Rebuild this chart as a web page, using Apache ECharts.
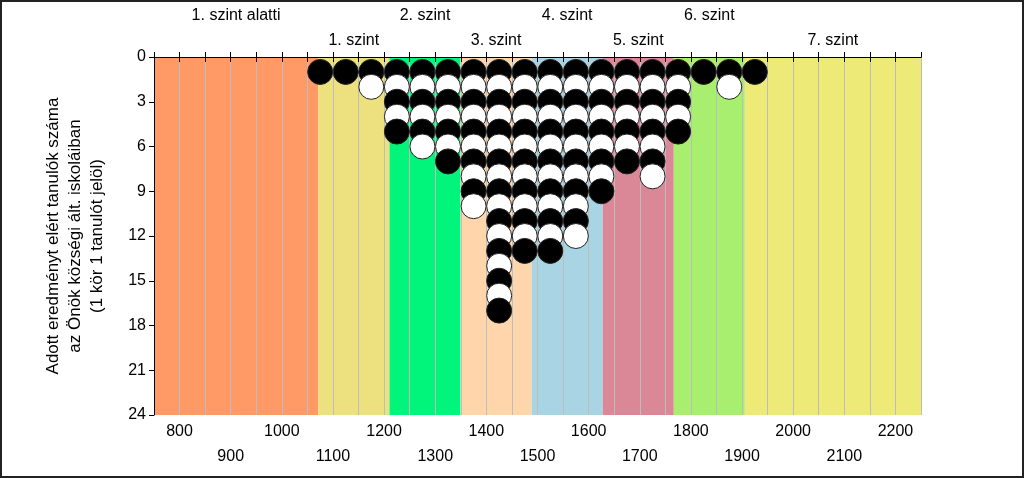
<!DOCTYPE html>
<html>
<head>
<meta charset="utf-8">
<script src="https://cdn.jsdelivr.net/npm/echarts@6/dist/echarts.min.js"></script>
<style>
html,body{margin:0;padding:0;background:#fff;}
#chart{width:1024px;height:478px;}
</style>
</head>
<body>
<div id="chart"></div>
<script>
// ---- data ----
const binCenters = [1075,1125,1175,1225,1275,1325,1375,1425,1475,1525,1575,1625,1675,1725,1775,1825,1875,1925];
const studentCounts = [1,1,2,5,6,7,10,17,13,13,12,9,7,8,5,1,2,1];
const levelNames = ['1. szint alatti','1. szint','2. szint','3. szint','4. szint','5. szint','6. szint','7. szint'];
const levelBounds = [750,1071,1210.5,1349.5,1488.5,1627.5,1766.5,1905.5,2250];
const yAxisTitle = 'Adott eredményt elért tanulók száma\naz Önök községi ált. iskoláiban\n(1 kör 1 tanulót jelöl)';

// ---- styles ----
const bandColors = ['#FF9966','#EDE07E','#00F57A','#FFD5AB','#A8D4E4','#DA8798','#A8EF70','#EDEA78'];
const FONT = 'Liberation Sans, Arial, sans-serif';
const FS = 16;

const bandData = levelNames.map((n, i) => [levelBounds[i], levelBounds[i + 1], i]);
// one dot per student, stacked downward; later rows drawn on top
const dots = [];
const maxCount = Math.max.apply(null, studentCounts);
for (let k = 1; k <= maxCount; k++) {
  binCenters.forEach((x, i) => { if (k <= studentCounts[i]) dots.push([x, k]); });
}

const chart = echarts.init(document.getElementById('chart'));
const axisCommon = {
  type: 'value', min: 750, max: 2250, interval: 50, z: 3,
  axisLine: { show: true, lineStyle: { color: '#000', width: 1 } },
  axisTick: { show: true, inside: false, length: 5, lineStyle: { color: '#000' } },
  splitLine: { show: false }
};
chart.setOption({
  animation: false,
  backgroundColor: '#fff',
  grid: { left: 154, right: 103, top: 57, bottom: 63 },
  xAxis: [
    Object.assign({}, axisCommon, {
      position: 'bottom',
      splitLine: { show: true, lineStyle: { color: '#BDBDBD', width: 1 } },
      axisLabel: {
        color: '#000', fontSize: FS, fontFamily: FONT, lineHeight: 25, margin: 4,
        showMinLabel: false, showMaxLabel: false,
        formatter: v => (v % 200 === 0 ? String(v) : (v % 100 === 0 ? '\n' + v : ''))
      }
    }),
    Object.assign({}, axisCommon, { position: 'top', axisLabel: { show: false } })
  ],
  yAxis: {
    type: 'value', inverse: true, min: 0, max: 24, interval: 3, z: 3,
    axisLine: { show: true, lineStyle: { color: '#000' } },
    axisTick: { show: true, length: 5, lineStyle: { color: '#000' } },
    splitLine: { show: false },
    axisLabel: { color: '#000', fontSize: FS, fontFamily: FONT, margin: 8 },
    name: yAxisTitle, nameLocation: 'middle', nameGap: 46, nameRotate: 90,
    nameTextStyle: { color: '#000', fontSize: 17, fontFamily: FONT, lineHeight: 22, align: 'center' }
  },
  series: [
    {
      type: 'custom', z: 1, silent: true,
      encode: { x: [0, 1], y: 2 },
      data: bandData,
      renderItem: (params, api) => {
        const idx = api.value(2);
        const p0 = api.coord([api.value(0), 0]);
        const p1 = api.coord([api.value(1), 24]);
        return {
          type: 'group',
          children: [
            { type: 'rect', shape: { x: p0[0], y: p0[1], width: p1[0] - p0[0], height: p1[1] - p0[1] },
              style: { fill: bandColors[idx] } },
            { type: 'text', x: (p0[0] + p1[0]) / 2, y: p0[1] - (idx % 2 === 0 ? 41 : 16),
              style: { text: levelNames[idx], textAlign: 'center', textVerticalAlign: 'middle',
                       fontSize: FS, fontFamily: FONT, fill: '#000' } }
          ]
        };
      }
    },
    {
      type: 'scatter', z: 5, symbol: 'circle', symbolSize: 25,
      data: dots,
      itemStyle: {
        opacity: 1, borderWidth: 1,
        color: p => (p.data[1] % 2 === 1 ? '#000' : '#fff'),
        borderColor: '#222'
      }
    }
  ],
  graphic: [{
    type: 'rect', z: 100, silent: true,
    shape: { x: 1, y: 1, width: 1022, height: 476 },
    style: { fill: 'none', stroke: '#222', lineWidth: 2 }
  }]
});
</script>
</body>
</html>
